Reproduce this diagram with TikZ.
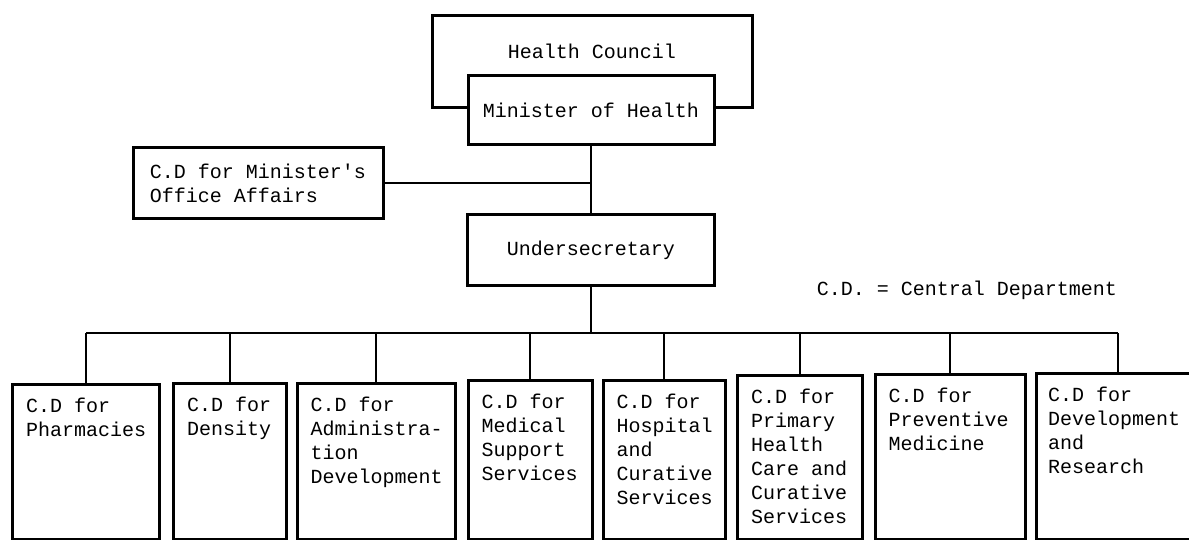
\documentclass[tikz,border=0pt]{standalone}
\usepackage{fontspec}
\setmainfont{Liberation Mono}
\usetikzlibrary{positioning}
\tikzset{
  unit/.style={draw,line width=3pt,inner sep=0pt},
  dept/.style={unit,anchor=north},
  deptname/.style={anchor=north west,align=left,inner sep=0pt,
    xshift=15pt,yshift=-15pt},
  link/.style={line width=1.6pt}
}

\begin{document}
\begin{tikzpicture}[x=1pt,y=-1pt,font=\fontsize{20}{24}\selectfont]
  \useasboundingbox (0,0) rectangle (1189,540);
  \clip (0,0) rectangle (1189,540);
  % top of the chart
  \node (council) [unit,minimum width=320pt,minimum height=92pt] at (592,62) {};
  \node (councilname) at (592,51) {Health Council};
  \node (minister) [unit,fill=white,minimum width=246pt,minimum height=69pt]
    at (591,110) {Minister of Health};
  \node (office) [unit,align=left,minimum width=250pt,minimum height=71pt]
    at (258,183) {C.D for Minister\textquotesingle s\\Office Affairs};
  \node (under) [unit,minimum width=247pt,minimum height=70pt]
    at (591,250) {Undersecretary};
  \coordinate (bus) at (591,333);
  \node (legend) at (967,290) {C.D. = Central Department};
  % central departments
  \node (pharm) [dept,minimum width=147pt,minimum height=155pt] at (86,383) {};
  \node (dens) [dept,minimum width=113pt,minimum height=156pt] at (230,382) {};
  \node (admin) [dept,minimum width=158pt,minimum height=156pt] at (376,382) {};
  \node (medic) [dept,minimum width=124pt,minimum height=159pt] at (530,379) {};
  \node (hosp) [dept,minimum width=122pt,minimum height=159pt] at (664,379) {};
  \node (prim) [dept,minimum width=125pt,minimum height=164pt] at (800,374) {};
  \node (prev) [dept,minimum width=150pt,minimum height=165pt] at (950,373) {};
  \node (devel) [dept,minimum width=163pt,minimum height=166pt] at (1118,372) {};
  \node [deptname] at (pharm.north west) {C.D for\\Pharmacies};
  \node [deptname] at (dens.north west) {C.D for\\Density};
  \node [deptname] at (admin.north west) {C.D for\\Administra-\\tion\\Development};
  \node [deptname] at (medic.north west) {C.D for\\Medical\\Support\\Services};
  \node [deptname] at (hosp.north west) {C.D for\\Hospital\\and\\Curative\\Services};
  \node [deptname] at (prim.north west) {C.D for\\Primary\\Health\\Care and\\Curative\\Services};
  \node [deptname] at (prev.north west) {C.D for\\Preventive\\Medicine};
  \node [deptname,xshift=-2pt] at (devel.north west) {C.D for\\Development\\and\\Research};
  % lines
  \draw [link] (minister.south) -- (under.north);
  \draw [link] (office.east) -- (office.east -| minister.south);
  \draw [link] (under.south) -- (bus);
  \draw [link] (pharm.north |- bus) -- (devel.north |- bus);
  \foreach \d in {pharm,dens,admin,medic,hosp,prim,prev,devel}
    \draw [link] (\d.north) -- (\d.north |- bus);
\end{tikzpicture}
\end{document}
